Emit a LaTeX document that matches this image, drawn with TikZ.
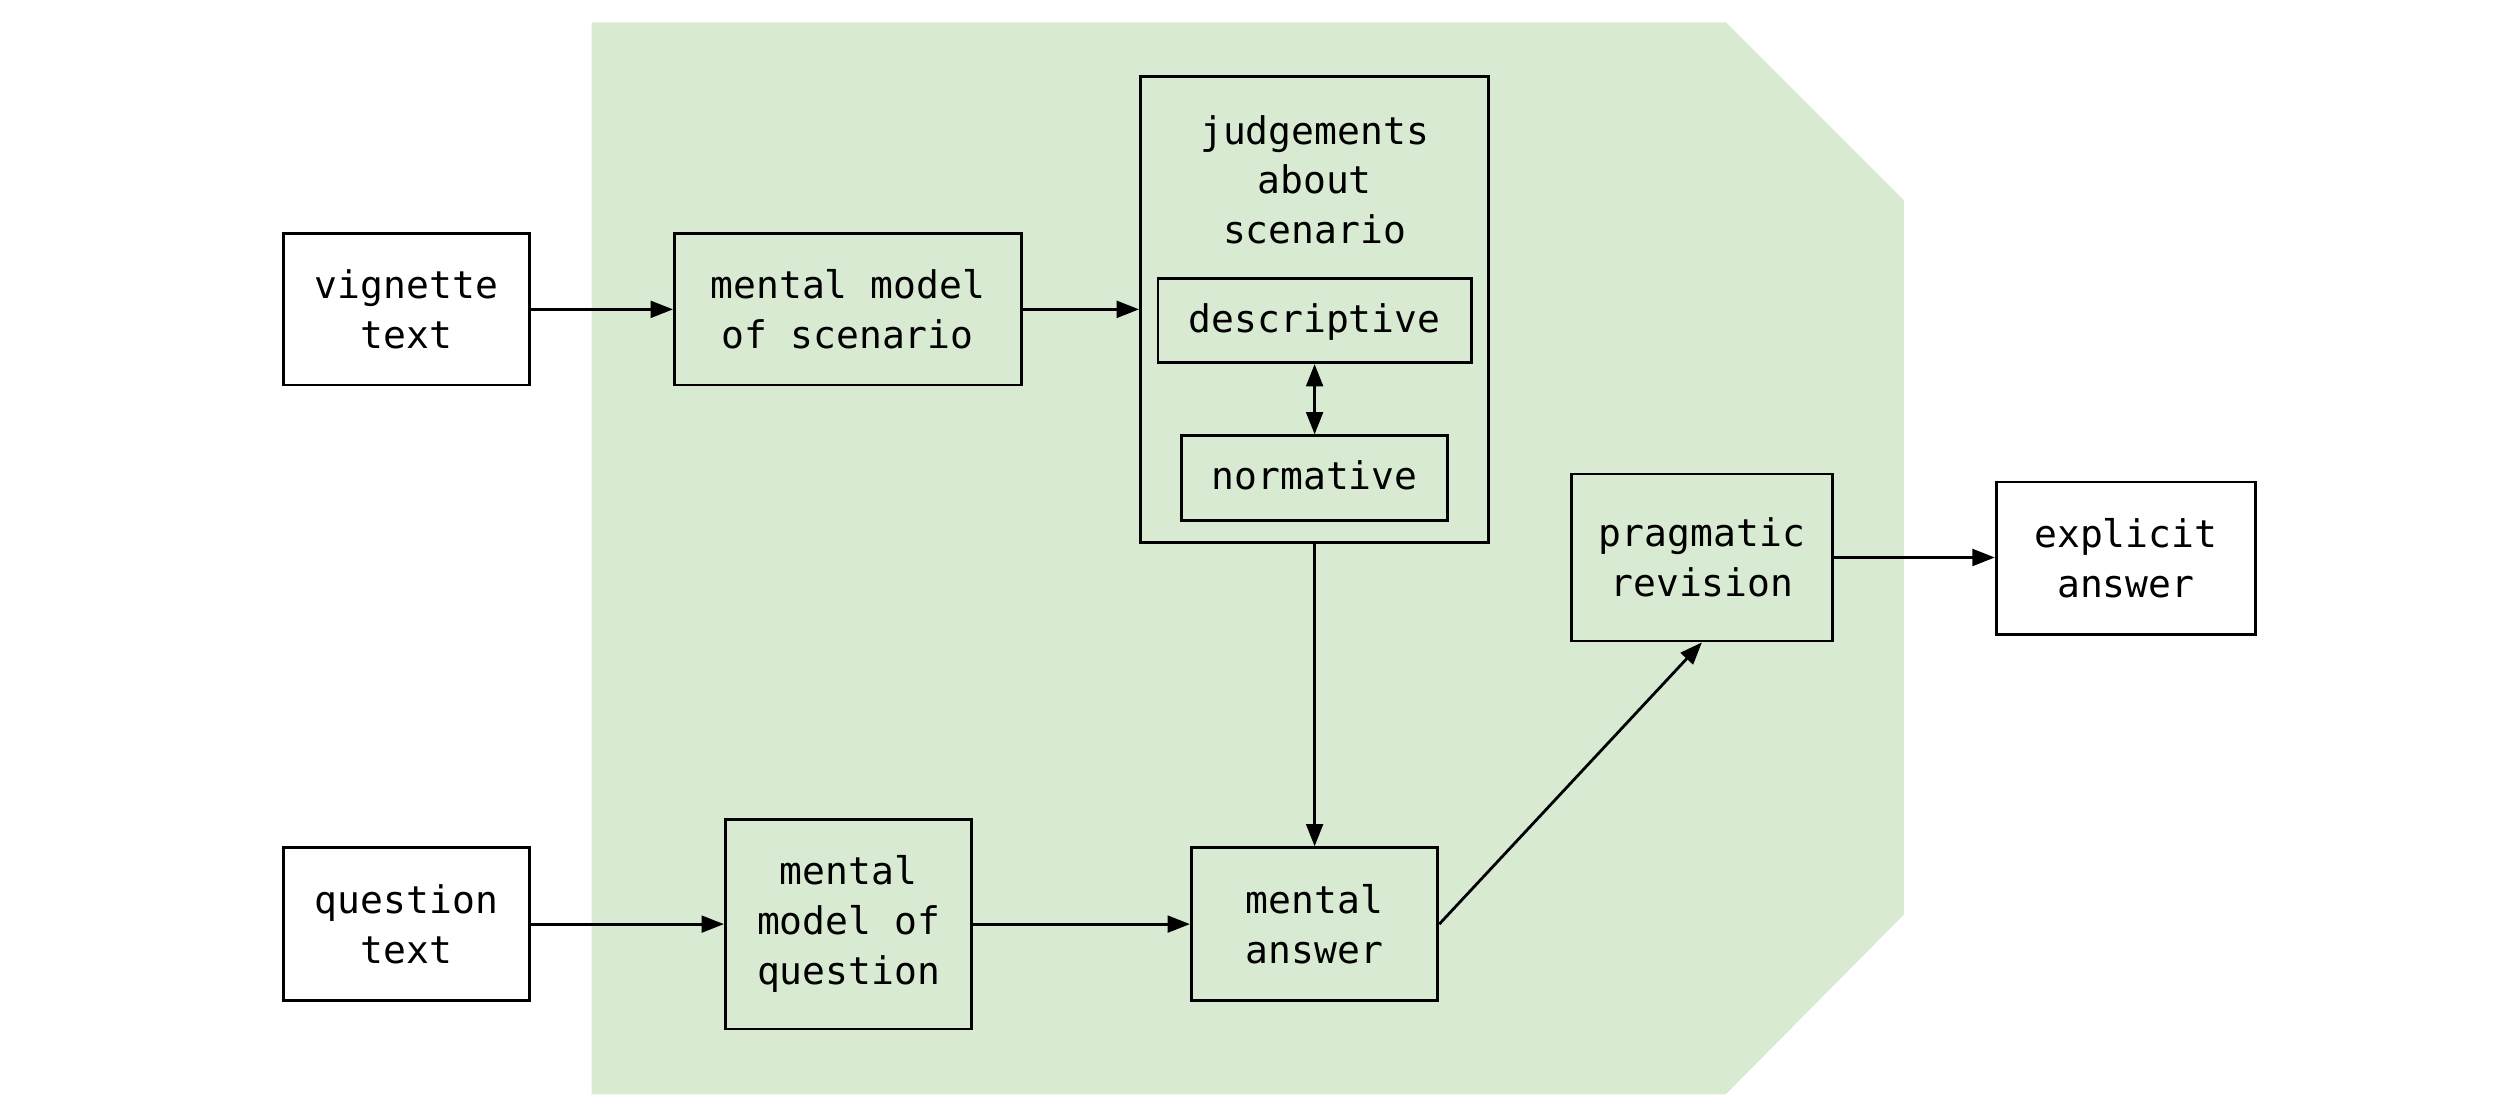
\documentclass[tikz,border=0pt]{standalone}
\usepackage{fontspec}
\setmonofont{DejaVu Sans Mono}
\usetikzlibrary{arrows.meta}
\definecolor{bggreen}{HTML}{D9EAD3}

\begin{document}
\begin{tikzpicture}[
    box/.style={draw, line width=1pt, align=center, inner sep=0pt,
      font=\ttfamily\fontsize{13.6}{17.8}\selectfont},
    arrow/.style={line width=1pt, -{Triangle[length=8pt,width=6pt]}}
  ]
                \useasboundingbox (0,0) rectangle (31.36,14.03);
                % Background
                \fill[bggreen] (7.44,13.75) -- (21.7,13.75) -- (23.94,11.51) -- (23.94,2.53)
                  -- (21.7,0.27) -- (7.44,0.27) -- cycle;

                % Nodes
                \node[box, fill=white, minimum width=3.1cm, minimum height=1.9cm] (vignette) at (5.11, 10.14) {vignette\\text};
                \node[box, minimum width=4.36cm, minimum height=1.9cm] (scenario) at (10.66, 10.14) {mental model\\of scenario};
                \node[box, minimum width=4.38cm, minimum height=5.86cm] (judge) at (16.53, 10.14) {};
                \node[align=center, font=\ttfamily\fontsize{13.6}{17.8}\selectfont] (judgetext) at (16.53, 11.77) {judgements\\about\\scenario};
                \node[box, minimum width=3.94cm, minimum height=1.06cm, text height=9.5pt, text depth=1pt] (descr) at (16.53, 10.00) {descriptive};
                \node[box, minimum width=3.34cm, minimum height=1.06cm, text height=9.5pt, text depth=1pt] (norm) at (16.53, 8.02) {normative};
                \node[box, fill=white, minimum width=3.1cm, minimum height=1.92cm] (question) at (5.11, 2.41) {question\\text};
                \node[box, minimum width=3.1cm, minimum height=2.64cm] (qmodel) at (10.67, 2.41) {mental\\model of\\question};
                \node[box, minimum width=3.1cm, minimum height=1.92cm] (answer) at (16.53, 2.41) {mental\\answer};
                \node[box, minimum width=3.28cm, minimum height=2.1cm] (revision) at (21.4, 7.02) {pragmatic\\revision};
                \node[box, fill=white, minimum width=3.26cm, minimum height=1.92cm] (explicit) at (26.73, 7.01) {explicit\\answer};

                % Edges
                \draw[arrow] (vignette) -- (scenario);
                \draw[arrow] (scenario) -- (judge);
                \draw[arrow, {Triangle[length=8pt,width=6pt]}-{Triangle[length=8pt,width=6pt]}] (descr) -- (norm);
                \draw[arrow] (judge) -- (answer);
                \draw[arrow] (question) -- (qmodel);
                \draw[arrow] (qmodel) -- (answer);
                \draw[arrow] (answer.east) -- (revision.south);
                \draw[arrow] (revision.east) -- (revision.east -| explicit.west);
\end{tikzpicture}
\end{document}
